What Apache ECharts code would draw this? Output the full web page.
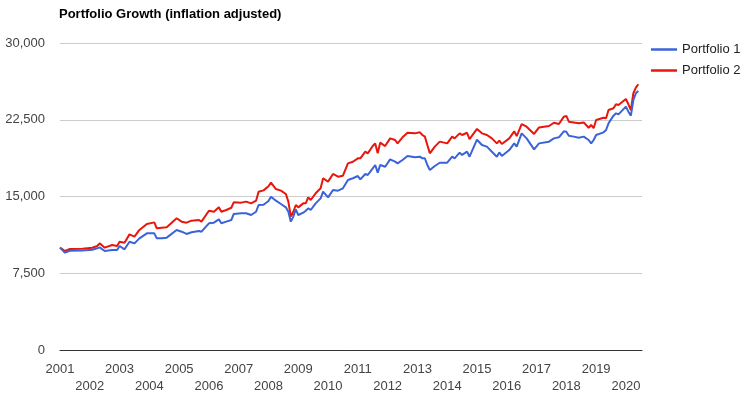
<!DOCTYPE html>
<html>
<head>
<meta charset="utf-8">
<script src="https://cdn.jsdelivr.net/npm/echarts@6/dist/echarts.min.js"></script>
<style>
html,body{margin:0;padding:0;background:#fff;}
#chart{width:749px;height:397px;}
</style>
</head>
<body>
<div id="chart"></div>
<script>
const chartTitle = 'Portfolio Growth (inflation adjusted)';
const seriesNames = ['Portfolio 1', 'Portfolio 2'];
const yTicks = [0, 7500, 15000, 22500, 30000];
const yearLabels = [2001,2002,2003,2004,2005,2006,2007,2008,2009,2010,2011,2012,2013,2014,2015,2016,2017,2018,2019,2020];

const months = [
'2001-01','2001-03','2001-05','2001-10','2002-02','2002-04','2002-05','2002-07','2002-10','2002-12',
'2003-01','2003-03','2003-05','2003-07','2003-09','2003-12','2004-03','2004-04','2004-06','2004-08',
'2004-12','2005-02','2005-04','2005-06','2005-09','2005-10','2006-01','2006-03','2006-05','2006-06',
'2006-08','2006-10','2006-11','2007-02','2007-04','2007-06','2007-08','2007-09','2007-11','2008-01',
'2008-02','2008-04','2008-06','2008-08','2008-09','2008-10','2008-11','2008-12','2009-01','2009-03',
'2009-04','2009-05','2009-06','2009-08','2009-10','2009-11','2010-01','2010-03','2010-05','2010-07',
'2010-09','2010-11','2011-01','2011-02','2011-04','2011-05','2011-07','2011-08','2011-09','2011-10',
'2011-12','2012-02','2012-04','2012-05','2012-07','2012-09','2012-12','2013-02','2013-03','2013-04',
'2013-05','2013-06','2013-08','2013-10','2014-01','2014-03','2014-04','2014-06','2014-07','2014-09',
'2014-10','2015-01','2015-03','2015-05','2015-07','2015-09','2015-10','2015-11','2016-02','2016-04',
'2016-05','2016-07','2016-09','2016-12','2017-02','2017-06','2017-08','2017-10','2017-12','2018-01',
'2018-02','2018-04','2018-06','2018-08','2018-10','2018-11','2018-12','2019-01','2019-04','2019-05',
'2019-06','2019-08','2019-09','2019-10','2020-01','2020-02','2020-03','2020-04','2020-05','2020-06'
];

const portfolio1 = [
10000,9510,9700,9720,9800,9935,10030,9675,9770,9770,
10160,9840,10580,10420,10910,11400,11400,10910,10910,10980,
11730,11560,11340,11500,11630,11560,12380,12440,12770,12380,
12540,12700,13290,13360,13360,13190,13510,14170,14200,14560,
14980,14590,14270,13940,13510,12540,13030,13750,13190,13420,
13610,13840,13680,14330,14820,15470,14920,15640,15570,15800,
16610,16780,17000,16680,17200,17100,17750,18080,17330,18080,
17910,18630,18400,18240,18570,18960,18830,18890,18730,18730,
18080,17590,17980,18300,18300,18890,18730,19280,19060,19380,
18890,20550,20030,19870,19380,18890,19310,18960,19540,20190,
19870,21170,20680,19610,20190,20360,20680,20780,21370,21330,
20940,20850,20750,20850,20520,20190,20520,21010,21270,21500,
22150,22900,23130,23030,23780,23290,22900,24430,25080,25310
];

const portfolio2 = [
10000,9675,9870,9900,9990,10160,10420,10000,10260,10160,
10580,10490,11300,11070,11730,12310,12470,11890,11950,11990,
12870,12540,12440,12640,12700,12540,13610,13510,13940,13510,
13680,13900,14430,14400,14500,14330,14590,15470,15600,16000,
16350,15730,15570,15240,14500,13030,13510,14170,13940,14330,
14330,14910,14660,15310,15800,16780,16450,17200,16940,17030,
18240,18400,18730,18730,19380,19220,19930,20190,19220,20260,
19930,20680,20520,20190,20780,21230,21170,21270,21010,20850,
20030,19220,19870,20360,20190,20850,20680,21170,21010,21230,
20610,21600,21170,21010,20680,20190,20460,20130,20680,21370,
20910,22080,21820,21110,21750,21890,22210,22080,22800,22870,
22310,22240,22150,22240,21720,21990,21670,22480,22700,22640,
23450,23620,24010,23940,24530,24010,23450,25090,25640,25970
];

function toYear(m) {
  const [y, mo] = m.split('-').map(Number);
  return y + (mo - 1) / 12;
}
const s1 = months.map((m, i) => [toYear(m), portfolio1[i]]);
const s2 = months.map((m, i) => [toYear(m), portfolio2[i]]);

const FONT = '"Liberation Sans", Arial, sans-serif';
const chart = echarts.init(document.getElementById('chart'), null, {renderer: 'canvas'});
chart.setOption({
  animation: false,
  backgroundColor: '#fff',
  textStyle: {fontFamily: FONT},
  title: {
    text: chartTitle,
    left: 54, top: 3,
    textStyle: {fontFamily: FONT, fontSize: 13, fontWeight: 'bold', color: '#000'}
  },
  legend: {
    orient: 'vertical',
    left: 651, top: 43,
    padding: 0,
    itemGap: 8,
    itemWidth: 26, itemHeight: 14,
    data: seriesNames.map(n => ({name: n, icon: 'path://M0,6 L26,6 L26,8.5 L0,8.5 Z'})),
    textStyle: {fontFamily: FONT, fontSize: 13, color: '#222', padding: [0, 0, 0, 0]}
  },
  grid: {left: 60, right: 107, top: 43, bottom: 47, containLabel: false},
  xAxis: {
    type: 'value',
    min: 2001,
    max: 2020.54,
    interval: 1,
    splitLine: {show: false},
    axisTick: {show: false},
    axisLine: {show: true, onZero: false, lineStyle: {color: '#333', width: 1}},
    axisLabel: {
      showMaxLabel: false,
      fontFamily: FONT, fontSize: 13, color: '#444', margin: 11, lineHeight: 17,
      formatter: function (v) {
        const y = Math.round(v);
        if (Math.abs(v - y) > 1e-6 || yearLabels.indexOf(y) < 0) return '';
        return (y % 2 === 1) ? String(y) : '\n' + y;
      }
    }
  },
  yAxis: {
    type: 'value',
    min: yTicks[0], max: yTicks[yTicks.length - 1], interval: 7500,
    axisLine: {show: false},
    axisTick: {show: false},
    splitLine: {lineStyle: {color: '#cccccc', width: 1}},
    axisLabel: {
      fontFamily: FONT, fontSize: 13, color: '#444', margin: 15,
      formatter: v => v.toLocaleString('en-US')
    }
  },
  series: [
    {name: seriesNames[0], type: 'line', data: s1, showSymbol: false, symbol: 'none',
     lineStyle: {color: '#3b63d8', width: 2}, itemStyle: {color: '#3b63d8'}, z: 3},
    {name: seriesNames[1], type: 'line', data: s2, showSymbol: false, symbol: 'none',
     lineStyle: {color: '#e8160c', width: 2}, itemStyle: {color: '#e8160c'}, z: 2}
  ]
});
</script>
</body>
</html>
